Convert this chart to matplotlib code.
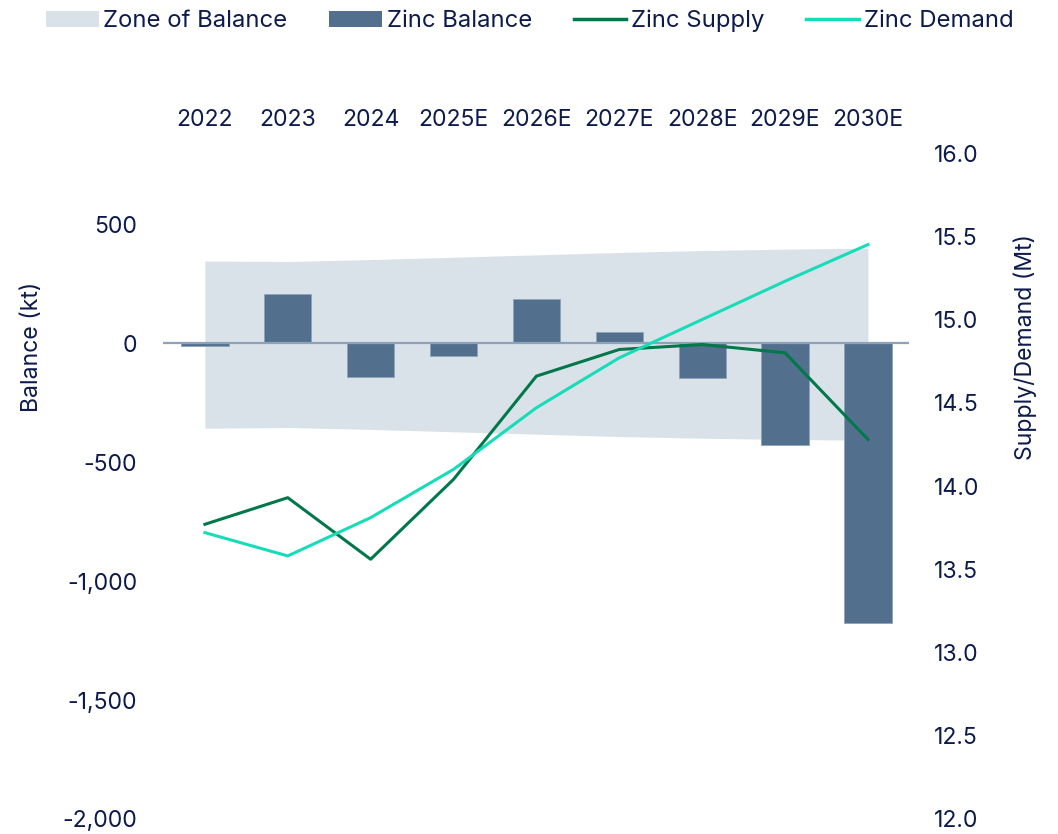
import matplotlib.pyplot as plt
import numpy as np
from matplotlib.lines import Line2D
from matplotlib.patches import Patch
from matplotlib.ticker import FuncFormatter

plt.rcParams['font.family'] = ['Inter', 'DejaVu Sans']

TEXT = '#0d1b4c'
ZONE = '#dae2e9'
BAR = '#52708e'
SUPPLY = '#00784a'
DEMAND = '#17dcb8'

years = ['2022', '2023', '2024', '2025E', '2026E', '2027E', '2028E', '2029E', '2030E']
balance = [-10, 206, -143, -55, 185, 46, -147, -429, -1176]
zone_upper = [346, 344, 352, 362, 372, 382, 390, 396, 400]
zone_lower = [-357, -354, -362, -372, -382, -392, -399, -404, -408]
supply = [13.77, 13.93, 13.56, 14.04, 14.66, 14.82, 14.85, 14.80, 14.28]
demand = [13.72, 13.58, 13.81, 14.10, 14.47, 14.77, 15.00, 15.23, 15.45]

x = np.arange(len(years))

fig = plt.figure(figsize=(10.58, 8.34), dpi=100)
ax = fig.add_axes([0.1545, 0.018, 0.705, 0.7985])
ax2 = ax.twinx()

ax.fill_between(x, zone_lower, zone_upper, color=ZONE, lw=0, zorder=1)
ax.bar(x, balance, width=0.57, color=BAR, edgecolor='#8da2b8', lw=0.6, zorder=2)
ax.axhline(0, color='#8da2b8', lw=1.6, zorder=3)

ax2.plot(x, supply, color=SUPPLY, lw=2.2)
ax2.plot(x, demand, color=DEMAND, lw=2.2)

ax.set_xlim(-0.5, 8.5)
ax.set_ylim(-2000, 800)
ax2.set_ylim(12, 16)

ax.set_xticks(x)
ax.set_xticklabels(years)
ax.xaxis.tick_top()
ax.set_yticks(np.arange(-2000, 501, 500))
ax.yaxis.set_major_formatter(FuncFormatter(lambda v, p: f'{int(v):,}'))
ax2.set_yticks(np.arange(12, 16.01, 0.5))
ax2.yaxis.set_major_formatter(FuncFormatter(lambda v, p: f'{v:.1f}'))

ax.tick_params(axis='x', length=0, pad=16, labelsize=16.6, colors=TEXT)
ax.tick_params(axis='y', length=0, pad=19, labelsize=16.6, colors=TEXT)
ax2.tick_params(axis='y', length=0, pad=18, labelsize=16.6, colors=TEXT)

for a in (ax, ax2):
    for s in a.spines.values():
        s.set_visible(False)

fig.text(32 / 1058, 1 - 347 / 834, 'Balance (kt)', rotation=90, ha='center', va='center',
         fontsize=16.6, color=TEXT)
fig.text(1025 / 1058, 1 - 347 / 834, 'Supply/Demand (Mt)', rotation=90, ha='center', va='center',
         fontsize=16.6, color=TEXT)

handles = [
    Patch(facecolor=ZONE, edgecolor='none'),
    Patch(facecolor=BAR, edgecolor='none'),
    Line2D([], [], color=SUPPLY, lw=2.5),
    Line2D([], [], color=DEMAND, lw=2.5),
]
labels = ['Zone of Balance', 'Zinc Balance', 'Zinc Supply', 'Zinc Demand']
leg = fig.legend(handles, labels, loc='center left', bbox_to_anchor=(46 / 1058, 1 - 21 / 834), ncol=4,
                 frameon=False, fontsize=17.2, handlelength=2.2, handleheight=0.7,
                 handletextpad=0.2, columnspacing=1.75, borderpad=0, borderaxespad=0)
for t in leg.get_texts():
    t.set_color(TEXT)

fig.savefig('out.png', dpi=100)
